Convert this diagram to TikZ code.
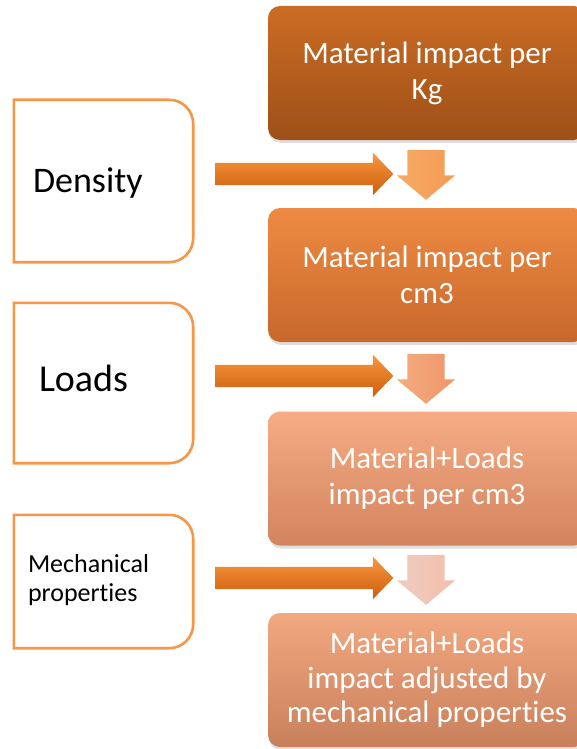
\documentclass[tikz,border=0pt]{standalone}
\usepackage{fontspec}
\setmainfont{Carlito}[Ligatures=NoCommon]
\usetikzlibrary{shapes.arrows,shadows}
\definecolor{lborder}{RGB}{247,150,70}
\definecolor{haTop}{RGB}{248,150,60}
\definecolor{haBot}{RGB}{205,95,15}
\tikzset{
  rbox/.style={rounded corners=12pt, minimum width=318pt, minimum height=134pt,
     align=center, text=white, inner sep=0pt,
     font=\fontsize{31}{36}\selectfont,
     drop shadow={opacity=0.25, shadow xshift=1pt, shadow yshift=-3pt}},
  lbox/.style={draw=none, minimum width=179pt, text width=155pt, inner xsep=12pt,
     align=left, inner ysep=0pt},
  lline/.style={draw=lborder, line width=2.6pt, fill=white},
  harrow/.style={single arrow, draw=none, inner xsep=0pt, inner ysep=11pt,
     text height=0pt, text depth=0pt, minimum height=178pt,
     single arrow head extend=10pt, single arrow tip angle=92,
     top color=haTop, bottom color=haBot},
  varrow/.style={single arrow, draw=none, inner xsep=0pt, inner ysep=18.5pt,
     text height=0pt, text depth=0pt, minimum height=50pt,
     single arrow head extend=10.5pt, single arrow tip angle=100, rotate=-90}
}
\begin{document}
\begin{tikzpicture}[x=1pt,y=-1pt]
\useasboundingbox (0,0) rectangle (576,749);

% right column boxes
\node[rbox, top color={rgb,255:red,203;green,108;blue,36}, bottom color={rgb,255:red,158;green,80;blue,24}] (b1) at (427,73) {Material impact per\\Kg};
\node[rbox, top color={rgb,255:red,238;green,138;blue,66}, bottom color={rgb,255:red,200;green,104;blue,44}] (b2) at (427,275) {Material impact per\\cm3};
\node[rbox, top color={rgb,255:red,246;green,172;blue,132}, bottom color={rgb,255:red,210;green,132;blue,94}] (b3) at (427,478.5) {Material+Loads\\impact per cm3};
\node[rbox, font=\fontsize{31}{34.5}\selectfont, top color={rgb,255:red,242;green,168;blue,128}, bottom color={rgb,255:red,200;green,128;blue,92}] (b4) at (427,680) {Material+Loads\\impact adjusted by\\mechanical properties};

% left boxes
\node[lbox, minimum height=162pt] (l1) at (103.5,181) {};
\node[lbox, minimum height=160pt] (l2) at (103.5,383) {};
\node[lbox, minimum height=133pt] (l3) at (103.5,581.5) {};
\foreach \n in {l1,l2,l3}{
  \draw[lline] (\n.south west) -- (\n.north west) -- ([xshift=-24pt]\n.north east)
     arc[start angle=90, end angle=0, radius=24pt] -- ([yshift=24pt]\n.south east)
     arc[start angle=0, end angle=-90, radius=24pt] -- cycle;
}
\node[lbox, minimum height=162pt, font=\fontsize{36}{40}\selectfont, inner xsep=19pt, text width=141pt, yshift=-2pt] (t1) at (l1) {Density};
\node[lbox, minimum height=160pt, font=\fontsize{38}{42}\selectfont, inner xsep=25pt, text width=129pt, yshift=5pt] (t2) at (l2) {Loads};
\node[lbox, minimum height=133pt, font=\fontsize{26}{29}\selectfont, inner xsep=14pt, text width=151pt, yshift=1pt] (t3) at (l3) {Mechanical\\properties};

% horizontal arrows
\node[harrow] (h1) at (299,174) {};
\node[harrow] (h2) at (299,376) {};
\node[harrow] (h3) at (299,578) {};

% down arrows
\node[varrow, left color={rgb,255:red,246;green,170;blue,100}, right color={rgb,255:red,244;green,155;blue,85}] (v1) at (426,167) {};
\node[varrow, left color={rgb,255:red,244;green,172;blue,128}, right color={rgb,255:red,238;green,150;blue,105}] (v2) at (426,371) {};
\node[varrow, left color={rgb,255:red,238;green,205;blue,192}, right color={rgb,255:red,244;green,190;blue,170}] (v3) at (426,572) {};
\end{tikzpicture}
\end{document}
